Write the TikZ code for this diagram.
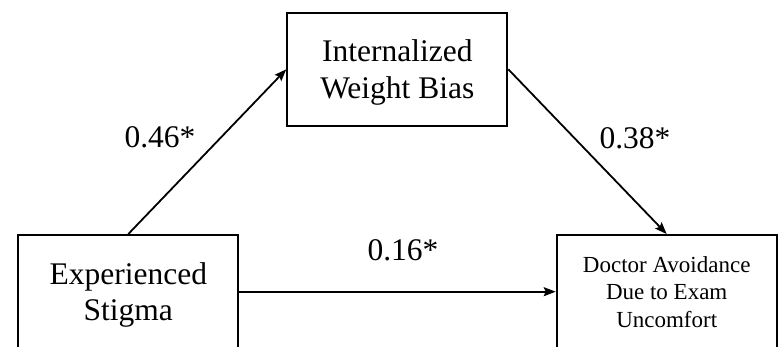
\documentclass[tikz,border=0pt]{standalone}
\usepackage{fontspec}
\setmainfont{Liberation Serif}
\usetikzlibrary{arrows.meta}
\tikzset{
  varbox/.style={draw=black, line width=2pt, minimum width=220pt, minimum height=113.3pt, inner sep=0pt, align=center, text=black},
  bigtext/.style={font=\fontsize{31.5}{36.7}\selectfont, text depth=0pt},
  smalltext/.style={font=\fontsize{23}{27.5}\selectfont},
  path/.style={draw=black, line width=1.8pt, -{Stealth[length=12pt,width=9pt,inset=2pt]}},
  coef/.style={font=\fontsize{31.5}{36}\selectfont, inner sep=0pt, anchor=base}
}
\begin{document}
\begin{tikzpicture}[x=1pt,y=-1pt]
\useasboundingbox (0,0) rectangle (783,347);
\clip (0,0) rectangle (783,347);
\fill[white] (0,0) rectangle (783,347);
\node[varbox, bigtext] (iwb) at (397.3,69.3) {Internalized\\Weight Bias};
\node[varbox, bigtext] (es) at (128.3,291.7) {Experienced\\Stigma};
\node[varbox, smalltext] (dav) at (666.7,291.7) {Doctor Avoidance\\Due to Exam\\Uncomfort};
\draw[path] (es.north) -- (iwb.west);
\draw[path] (iwb.east) -- (dav.north);
\draw[path] (es.east) -- (dav.west);
\node[coef] (ca) at (160,148) {0.46*};
\node[coef] (cb) at (635,148.3) {0.38*};
\node[coef] (cc) at (403,260) {0.16*};
\end{tikzpicture}
\end{document}
